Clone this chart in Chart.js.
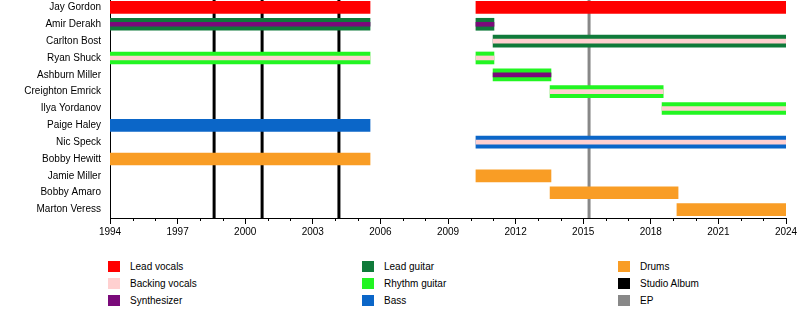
<!DOCTYPE html>
<html>
<head>
<meta charset="utf-8">
<script src="https://cdn.jsdelivr.net/npm/chart.js@4"></script>
<style>
  body { margin: 0; background: #fff; font-family: 'Liberation Sans', Arial, sans-serif; }
  #wrap { position: relative; width: 800px; height: 336px; overflow: hidden; }
  #chart { position: absolute; left: 0; top: -1px; }
  .lg { position: absolute; font-size: 10px; color: #000; line-height: 12px; }
  .lg i { position: absolute; left: 0; top: 0; width: 12px; height: 11px; }
  .lg span { position: absolute; left: 22px; top: 0; white-space: nowrap; }
</style>
</head>
<body>
<div id="wrap">
  <canvas id="chart" width="800" height="241"></canvas>
  <div id="legend"></div>
</div>
<script>
// members, top to bottom
const members = ['Jay Gordon', 'Amir Derakh', 'Carlton Bost', 'Ryan Shuck', 'Ashburn Miller',
  'Creighton Emrick', 'Ilya Yordanov', 'Paige Haley', 'Nic Speck', 'Bobby Hewitt',
  'Jamie Miller', 'Bobby Amaro', 'Marton Veress'];

// [member, from, to]
const leadVocals = [['Jay Gordon', 1994, 2005.54], ['Jay Gordon', 2010.24, 2024]];
const leadGuitar = [['Amir Derakh', 1994, 2005.54], ['Amir Derakh', 2010.24, 2011.04], ['Carlton Bost', 2011, 2024]];
const rhythmGuitar = [['Ryan Shuck', 1994, 2005.54], ['Ryan Shuck', 2010.24, 2011.04], ['Ashburn Miller', 2011, 2013.57],
  ['Creighton Emrick', 2013.53, 2018.55], ['Ilya Yordanov', 2018.5, 2024]];
const bass = [['Paige Haley', 1994, 2005.54], ['Nic Speck', 2010.24, 2024]];
const drums = [['Bobby Hewitt', 1994, 2005.54], ['Jamie Miller', 2010.24, 2013.57],
  ['Bobby Amaro', 2013.53, 2019.21], ['Marton Veress', 2019.16, 2024]];
// second roles, drawn as a thin stripe inside the bar
const backingVocals = [['Carlton Bost', 2011, 2024], ['Ryan Shuck', 1994, 2005.54], ['Ryan Shuck', 2010.24, 2011.04],
  ['Creighton Emrick', 2013.53, 2018.55], ['Ilya Yordanov', 2018.5, 2024], ['Nic Speck', 2010.24, 2024]];
const synthesizer = [['Amir Derakh', 1994, 2005.54], ['Amir Derakh', 2010.24, 2011.04], ['Ashburn Miller', 2011, 2013.57]];

const studioAlbums = [1998.62, 2000.75, 2004.16];
const eps = [2015.26];

const xTicks = [1994, 1997, 2000, 2003, 2006, 2009, 2012, 2015, 2018, 2021, 2024];

const colors = {
  leadVocals: '#ff0000', backingVocals: '#ffd0d0', synthesizer: '#7a0a7a',
  leadGuitar: '#0f7a3a', rhythmGuitar: '#22f522', bass: '#0b66c8', drums: '#f99d25',
  studio: '#000000', ep: '#888888'
};

const legendItems = [
  ['Lead vocals', colors.leadVocals], ['Backing vocals', colors.backingVocals], ['Synthesizer', colors.synthesizer],
  ['Lead guitar', colors.leadGuitar], ['Rhythm guitar', colors.rhythmGuitar], ['Bass', colors.bass],
  ['Drums', colors.drums], ['Studio Album', colors.studio], ['EP', colors.ep]
];

const toPoints = rows => rows.map(r => ({ y: r[0], x: [r[1], r[2]] }));

function barSet(label, rows, color, thick, order) {
  return {
    label, data: toPoints(rows), backgroundColor: color, borderWidth: 0,
    barThickness: thick, grouped: false, order
  };
}

// album lines behind the bars, minor year ticks on the axis
const extras = {
  id: 'extras',
  beforeDatasetsDraw(chart) {
    const { ctx, chartArea, scales: { x } } = chart;
    ctx.save();
    ctx.lineWidth = 3;
    const draw = (vals, c) => vals.forEach(v => {
      const px = x.getPixelForValue(v);
      ctx.strokeStyle = c;
      ctx.beginPath();
      ctx.moveTo(px, 0);
      ctx.lineTo(px, chartArea.bottom);
      ctx.stroke();
    });
    draw(studioAlbums, colors.studio);
    draw(eps, colors.ep);
    ctx.restore();
  },
  afterDraw(chart) {
    const { ctx, chartArea, scales: { x } } = chart;
    ctx.save();
    ctx.strokeStyle = '#000';
    ctx.lineWidth = 1;
    for (let yr = xTicks[0]; yr <= xTicks[xTicks.length - 1]; yr++) {
      if (xTicks.includes(yr)) continue;
      const px = Math.round(x.getPixelForValue(yr)) + 0.5;
      ctx.beginPath();
      ctx.moveTo(px, chartArea.bottom);
      ctx.lineTo(px, chartArea.bottom + 3);
      ctx.stroke();
    }
    ctx.restore();
  }
};

new Chart(document.getElementById('chart'), {
  type: 'bar',
  data: {
    labels: members,
    datasets: [
      barSet('Backing vocals', backingVocals, colors.backingVocals, 4, 0),
      barSet('Synthesizer', synthesizer, colors.synthesizer, 4, 0),
      barSet('Lead vocals', leadVocals, colors.leadVocals, 12, 1),
      barSet('Lead guitar', leadGuitar, colors.leadGuitar, 12, 1),
      barSet('Rhythm guitar', rhythmGuitar, colors.rhythmGuitar, 12, 1),
      barSet('Bass', bass, colors.bass, 12, 1),
      barSet('Drums', drums, colors.drums, 12, 1)
    ]
  },
  options: {
    indexAxis: 'y',
    responsive: false,
    animation: false,
    layout: { padding: { top: 0, right: 14, left: 0, bottom: 0 } },
    plugins: { legend: { display: false }, tooltip: { enabled: false } },
    scales: {
      x: {
        type: 'linear',
        min: xTicks[0],
        max: xTicks[xTicks.length - 1],
        afterBuildTicks: s => { s.ticks = xTicks.map(v => ({ value: v })); },
        afterFit: s => { s.height = 22; },
        ticks: {
          color: '#000', padding: 2, maxRotation: 0, autoSkip: false,
          font: { family: "'Liberation Sans', Arial, sans-serif", size: 10 },
          callback: v => String(v)
        },
        grid: { drawOnChartArea: false, tickLength: 6, tickColor: '#000' },
        border: { color: '#000', width: 1 }
      },
      y: {
        type: 'category',
        afterFit: s => { s.width = 110; s.paddingTop = 0; s.paddingBottom = 0; },
        ticks: {
          color: '#000', padding: 9, autoSkip: false,
          font: { family: "'Liberation Sans', Arial, sans-serif", size: 10 }
        },
        grid: { display: false, drawTicks: false },
        border: { color: '#000', width: 1 }
      }
    }
  },
  plugins: [extras]
});

// legend: three columns, filled top to bottom
const legendCols = [108, 362, 618];
const legendRows = [261, 278, 295];
document.getElementById('legend').innerHTML = legendItems.map((it, i) => {
  const col = Math.floor(i / 3), row = i % 3;
  return `<div class="lg" style="left:${legendCols[col]}px;top:${legendRows[row]}px">` +
    `<i style="background:${it[1]}"></i><span>${it[0]}</span></div>`;
}).join('');
</script>
</body>
</html>
